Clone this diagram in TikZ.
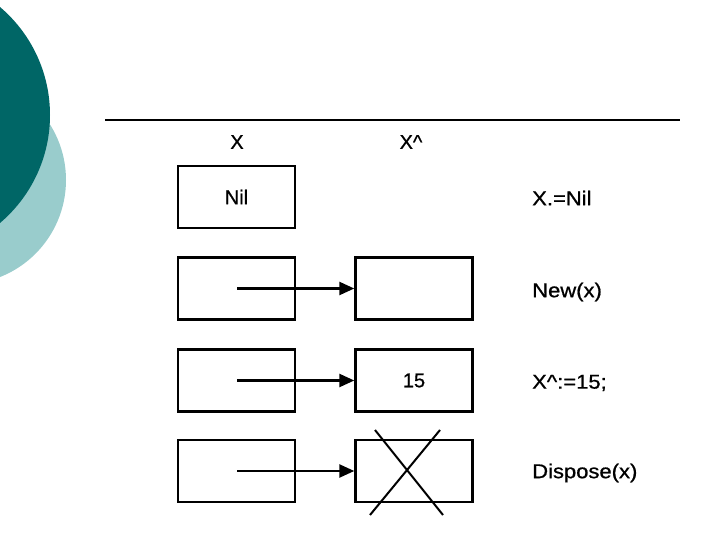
\documentclass[tikz,border=0pt]{standalone}
\usepackage{fontspec}
\setmainfont{Liberation Sans}[FakeBold=0.8]
\usetikzlibrary{arrows.meta}
\definecolor{darkteal}{RGB}{0,102,102}
\definecolor{lightteal}{RGB}{153,204,204}
\begin{document}
\begin{tikzpicture}[x=1pt,y=-1pt,
  cell/.style={draw,line width=2.4pt,minimum width=117pt,minimum height=62pt,inner sep=0pt,font=\fontsize{20}{24}\selectfont},
  lbl/.style={font=\fontsize{20}{24}\selectfont,inner sep=0pt},
  cmd/.style={font=\fontsize{20}{24}\selectfont,inner sep=0pt,anchor=west,xscale=1.1},
  ptr/.style={line width=2.4pt,-{Triangle[length=15pt,width=13pt]}},
  crossline/.style={line width=2pt}]
\useasboundingbox (0,0) rectangle (720,540);
\fill[lightteal] (-38.3,180) circle (104.3);
\fill[darkteal] (-91.6,115) circle (141.6);
\draw[line width=1.3pt] (105,120) -- (680,120);
\node[lbl] (hx) at (237,142) {X};
\node[lbl] (hxp) at (411,142) {X\^{}};
% row 1
\node[cell] (a1) at (236.5,197) {Nil};
\node[cmd] (c1) at (532,198) {X.=Nil};
% row 2
\node[cell] (a2) at (236.5,288.5) {};
\node[cell] (b2) at (414,288.5) {};
\coordinate (s2) at (237,288.5);
\draw[ptr] (s2) -- (b2.west);
\node[cmd] (c2) at (532,292) {New(x)};
% row 3
\node[cell] (a3) at (236.5,380.5) {};
\node[cell] (b3) at (414,380.5) {15};
\coordinate (s3) at (237,380.5);
\draw[ptr] (s3) -- (b3.west);
\node[cmd] (c3) at (532,383) {X\^{}:=15;};
% row 4
\node[cell] (a4) at (236.5,471) {};
\node[cell] (b4) at (414,471) {};
\coordinate (s4) at (237,471);
\draw[ptr] (s4) -- (b4.west);
\coordinate (x1) at (375,430);
\coordinate (x2) at (443,515);
\coordinate (x3) at (440,430);
\coordinate (x4) at (370,515);
\draw[crossline] (x1) -- (x2);
\draw[crossline] (x3) -- (x4);
\node[cmd] (c4) at (532,473) {Dispose(x)};
\end{tikzpicture}
\end{document}
